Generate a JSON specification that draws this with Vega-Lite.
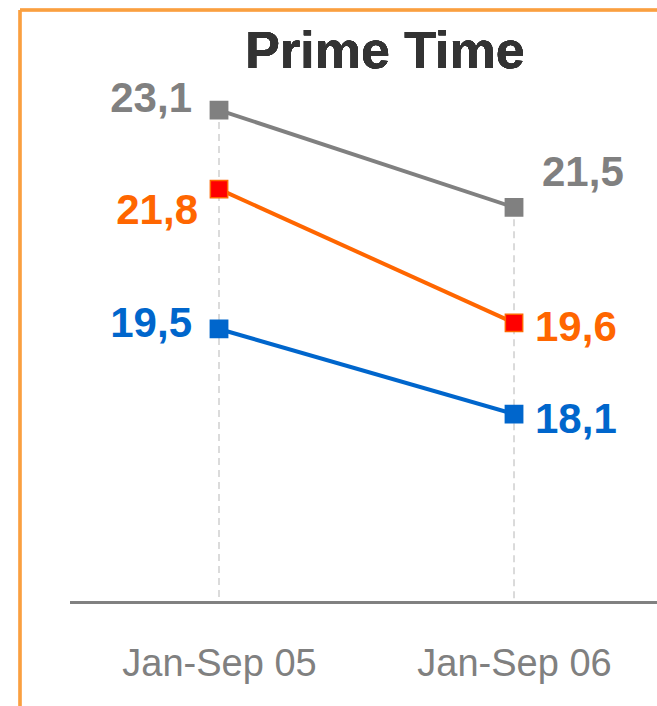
{
  "$schema": "https://vega.github.io/schema/vega-lite/v6.json",
  "width": 637,
  "height": 696,
  "autosize": {"type": "none"},
  "padding": {"left": 20, "top": 10, "right": 0, "bottom": 0},
  "background": "#ffffff",
  "config": {"view": {"stroke": null}},
  "data": {
    "values": [
      {"series": "s1", "period": "Jan-Sep 05", "year": 2005, "value": 23.1, "label": "23,1"},
      {"series": "s1", "period": "Jan-Sep 06", "year": 2006, "value": 21.5, "label": "21,5"},
      {"series": "s2", "period": "Jan-Sep 05", "year": 2005, "value": 21.8, "label": "21,8"},
      {"series": "s2", "period": "Jan-Sep 06", "year": 2006, "value": 19.6, "label": "19,6"},
      {"series": "s3", "period": "Jan-Sep 05", "year": 2005, "value": 19.5, "label": "19,5"},
      {"series": "s3", "period": "Jan-Sep 06", "year": 2006, "value": 18.1, "label": "18,1"}
    ]
  },
  "encoding": {
    "x": {
      "field": "year",
      "type": "quantitative",
      "scale": {"domain": [2004.3254, 2006.4847], "nice": false, "zero": false},
      "axis": {
        "values": [2005, 2006],
        "labelExpr": "datum.value == 2005 ? 'Jan-Sep 05' : 'Jan-Sep 06'",
        "domain": false,
        "ticks": false,
        "grid": false,
        "title": null,
        "labelFont": "Liberation Sans",
        "labelFontSize": 38,
        "labelColor": "#808080",
        "labelBaseline": "alphabetic",
        "labelPadding": 71,
        "labelLimit": 500,
        "offset": -102,
        "labelFlush": false,
        "labelOverlap": false
      }
    },
    "y": {
      "field": "value",
      "type": "quantitative",
      "scale": {"domain": [13.3, 24.745], "nice": false, "zero": false},
      "axis": null
    }
  },
  "layer": [
    {
      "mark": {"type": "rule", "color": "#F9A040", "strokeWidth": 2.5},
      "encoding": {"x": {"datum": 2004.3254, "type": "quantitative"}, "y": null}
    },
    {
      "mark": {"type": "rule", "color": "#F9A040", "strokeWidth": 2.5},
      "encoding": {"y": {"datum": 24.745, "type": "quantitative"}, "x": null}
    },
    {
      "mark": {"type": "text", "text": "Prime Time", "font": "Liberation Sans", "fontSize": 52, "fontWeight": "bold", "color": "#333333", "align": "center", "baseline": "alphabetic"},
      "encoding": {
        "x": {"datum": 2005.5627, "type": "quantitative"},
        "y": {"datum": 23.79, "type": "quantitative"}
      }
    },
    {
      "mark": {"type": "rule", "color": "#c8c8c8", "strokeWidth": 1.3, "strokeDash": [7, 5]},
      "encoding": {
        "y": {"aggregate": "max", "field": "value", "type": "quantitative"},
        "y2": {"datum": 15}
      }
    },
    {
      "mark": {"type": "rule", "color": "#808080", "strokeWidth": 2},
      "encoding": {
        "x": {"datum": 2004.495, "type": "quantitative"},
        "x2": {"datum": 2006.4847},
        "y": {"datum": 15, "type": "quantitative"}
      }
    },
    {
      "mark": {"type": "line", "strokeWidth": 4},
      "encoding": {
        "stroke": {
          "field": "series",
          "type": "nominal",
          "scale": {"domain": ["s1", "s2", "s3"], "range": ["#808080", "#FF6600", "#0066CC"]},
          "legend": null
        }
      }
    },
    {
      "mark": {"type": "point", "shape": "square", "size": 300, "filled": true, "strokeWidth": 1.5, "opacity": 1},
      "encoding": {
        "fill": {
          "field": "series",
          "type": "nominal",
          "scale": {"domain": ["s1", "s2", "s3"], "range": ["#808080", "#FF0000", "#0066CC"]},
          "legend": null
        },
        "stroke": {"field": "series", "type": "nominal", "legend": null}
      }
    },
    {
      "transform": [{"filter": "datum.series == 's1' && datum.year == 2005"}],
      "mark": {"type": "text", "font": "Liberation Sans", "fontSize": 42, "fontWeight": "bold", "align": "right", "baseline": "alphabetic", "dx": -27, "dy": 2, "color": "#808080"},
      "encoding": {"text": {"field": "label"}}
    },
    {
      "transform": [{"filter": "datum.series == 's2' && datum.year == 2005"}],
      "mark": {"type": "text", "font": "Liberation Sans", "fontSize": 42, "fontWeight": "bold", "align": "right", "baseline": "alphabetic", "dx": -21, "dy": 35, "color": "#FF6600"},
      "encoding": {"text": {"field": "label"}}
    },
    {
      "transform": [{"filter": "datum.series == 's3' && datum.year == 2005"}],
      "mark": {"type": "text", "font": "Liberation Sans", "fontSize": 42, "fontWeight": "bold", "align": "right", "baseline": "alphabetic", "dx": -27, "dy": 8, "color": "#0066CC"},
      "encoding": {"text": {"field": "label"}}
    },
    {
      "transform": [{"filter": "datum.series == 's1' && datum.year == 2006"}],
      "mark": {"type": "text", "font": "Liberation Sans", "fontSize": 42, "fontWeight": "bold", "align": "left", "baseline": "alphabetic", "dx": 28, "dy": -21, "color": "#808080"},
      "encoding": {"text": {"field": "label"}}
    },
    {
      "transform": [{"filter": "datum.series == 's2' && datum.year == 2006"}],
      "mark": {"type": "text", "font": "Liberation Sans", "fontSize": 42, "fontWeight": "bold", "align": "left", "baseline": "alphabetic", "dx": 21, "dy": 18, "color": "#FF6600"},
      "encoding": {"text": {"field": "label"}}
    },
    {
      "transform": [{"filter": "datum.series == 's3' && datum.year == 2006"}],
      "mark": {"type": "text", "font": "Liberation Sans", "fontSize": 42, "fontWeight": "bold", "align": "left", "baseline": "alphabetic", "dx": 21, "dy": 19, "color": "#0066CC"},
      "encoding": {"text": {"field": "label"}}
    }
  ]
}
